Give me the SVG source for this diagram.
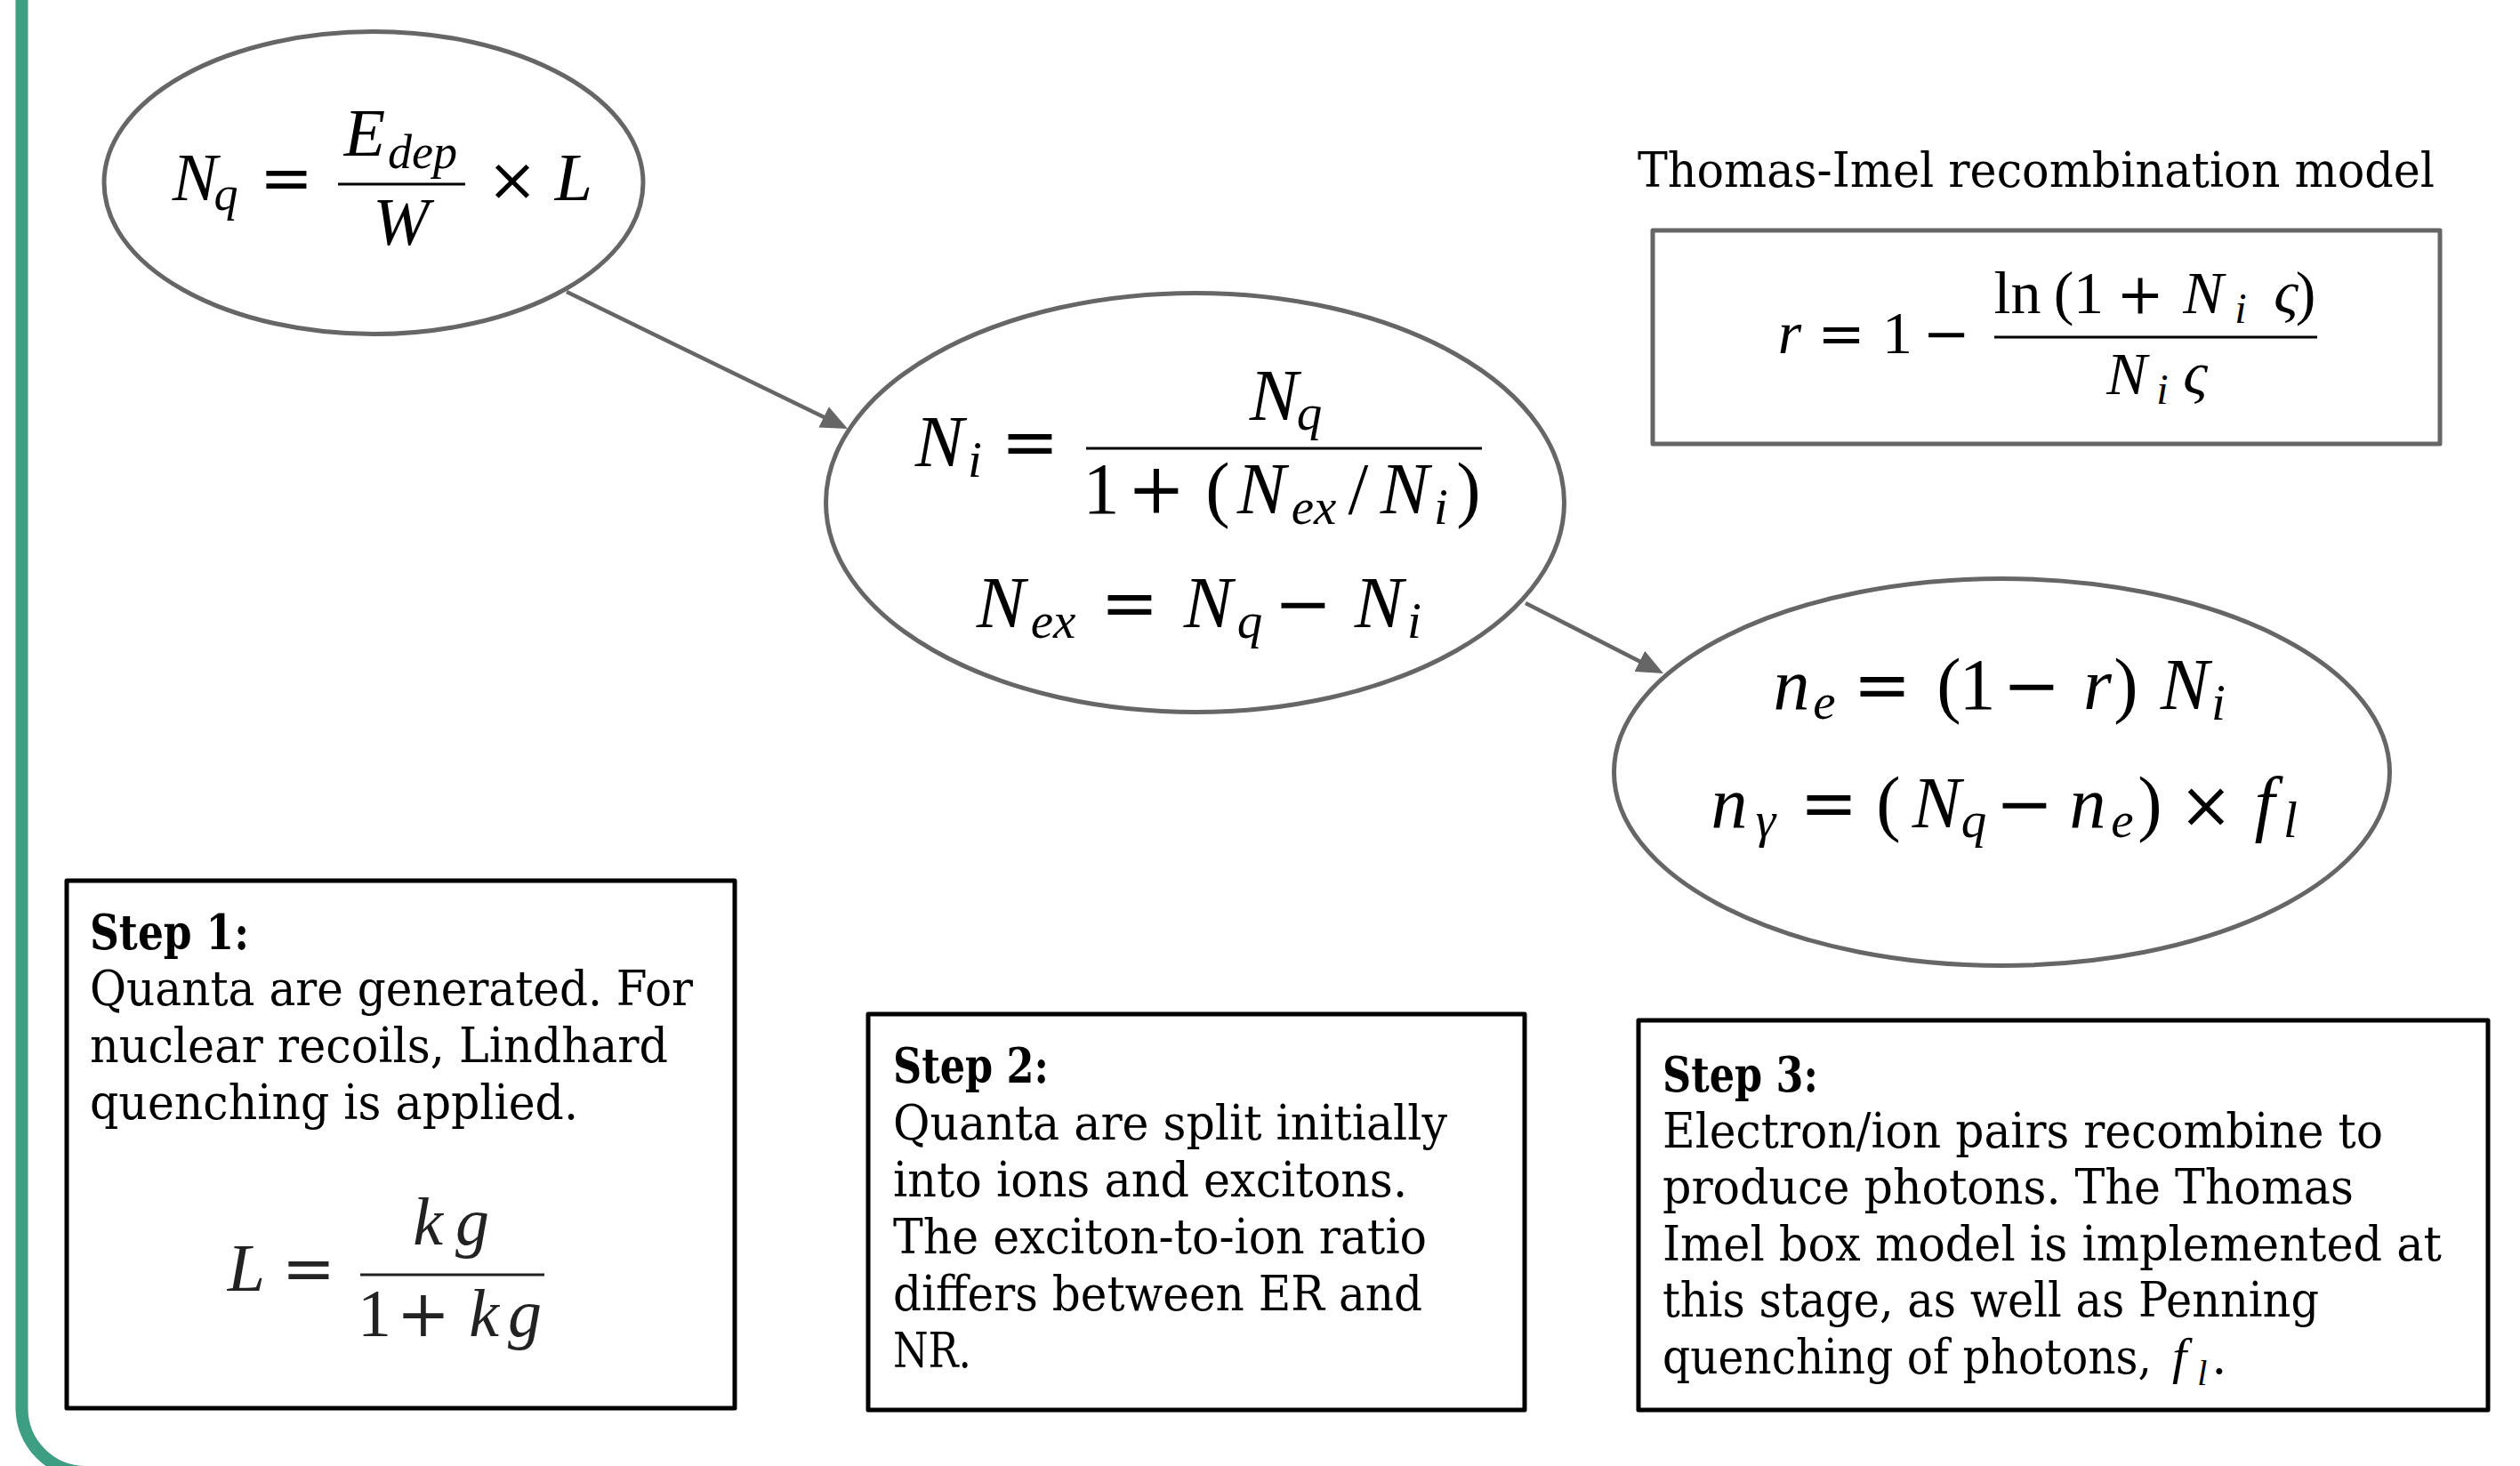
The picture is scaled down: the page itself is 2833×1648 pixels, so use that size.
<svg xmlns="http://www.w3.org/2000/svg" width="2833" height="1648" viewBox="0 0 2833 1648">
<defs>
<style>
.node{fill:#fff;stroke:#666;stroke-width:5}
.box{fill:#fff;stroke:#000;stroke-width:5;stroke-linejoin:round}
.tibox{fill:#fff;stroke:#666;stroke-width:5;stroke-linejoin:round}
.edge{stroke:#666;stroke-width:4.5;fill:none}
.bar{stroke:#000;stroke-width:3}
.mi{font-family:"Liberation Serif",serif;font-style:italic;fill:#000;text-anchor:middle}
.mn{font-family:"Liberation Serif",serif;fill:#000;text-anchor:middle}
.mo{font-family:"DejaVu Serif",serif;fill:#000;text-anchor:middle}
.t{font-family:"DejaVu Serif","Liberation Serif",serif;font-size:54px;fill:#000}
.tb{font-family:"DejaVu Serif","Liberation Serif",serif;font-size:54px;font-weight:bold;fill:#000}
.it{font-family:"Liberation Serif",serif;font-style:italic}
</style>
<marker id="arr" viewBox="0 0 30 26" refX="21" refY="13" markerWidth="30" markerHeight="26" markerUnits="userSpaceOnUse" orient="auto">
<path d="M0,0 L30,13 L0,26 Z" fill="#666"/>
</marker>
</defs>
<rect width="2833" height="1648" fill="#fff"/>
<path d="M24.5,0 V1583 A72,72 0 0 0 96.5,1655 H2840" fill="none" stroke="#3d9e82" stroke-width="14"/>

<g id="connectors">
<line class="edge" x1="637" y1="328" x2="944.9" y2="478.1" marker-end="url(#arr)"/>
<line class="edge" x1="1715" y1="678" x2="1862" y2="752.9" marker-end="url(#arr)"/>
</g>

<g id="node-nq">
<ellipse class="node" cx="420" cy="205.5" rx="303" ry="170"/>
<text class="mi" x="219" y="225" font-size="76">N</text>
<text class="mi" x="254" y="236" font-size="54">q</text>
<text class="mo" x="322" y="225" font-size="72">=</text>
<text class="mi" x="410" y="175" font-size="76">E</text>
<text class="mi" x="436" y="189" font-size="54" style="text-anchor:start">dep</text>
<line class="bar" x1="380" y1="207" x2="523" y2="207"/>
<text class="mi" x="451" y="275" font-size="76">W</text>
<text class="mo" x="576" y="225" font-size="68">×</text>
<text class="mi" x="645" y="225" font-size="76">L</text>
</g>

<g id="node-ni">
<ellipse class="node" cx="1343.5" cy="565" rx="415" ry="235.5"/>
<text class="mi" x="1056" y="524" font-size="82">N</text>
<text class="mi" x="1096" y="536" font-size="57">i</text>
<text class="mo" x="1158" y="524" font-size="78">=</text>
<text class="mi" x="1432" y="472" font-size="82">N</text>
<text class="mi" x="1472" y="483" font-size="57">q</text>
<line class="bar" x1="1221" y1="504" x2="1666" y2="504"/>
<text class="mn" x="1238" y="577" font-size="82">1</text>
<text class="mo" x="1300" y="577" font-size="78">+</text>
<text class="mn" x="1369" y="577" font-size="82">(</text>
<text class="mi" x="1418" y="577" font-size="82">N</text>
<text class="mi" x="1477" y="589" font-size="57">ex</text>
<text class="mn" x="1527" y="577" font-size="82">/</text>
<text class="mi" x="1579" y="577" font-size="82">N</text>
<text class="mi" x="1620" y="589" font-size="57">i</text>
<text class="mn" x="1651" y="577" font-size="82">)</text>
<text class="mi" x="1125" y="705" font-size="82">N</text>
<text class="mi" x="1184" y="717" font-size="57">ex</text>
<text class="mo" x="1270" y="705" font-size="78">=</text>
<text class="mi" x="1358" y="705" font-size="82">N</text>
<text class="mi" x="1405" y="717" font-size="57">q</text>
<text class="mo" x="1465" y="705" font-size="78">−</text>
<text class="mi" x="1550" y="705" font-size="82">N</text>
<text class="mi" x="1590" y="717" font-size="57">i</text>
</g>

<g id="node-ne">
<ellipse class="node" cx="2250.5" cy="868" rx="436" ry="217.5"/>
<text class="mi" x="2014" y="797" font-size="82">n</text>
<text class="mi" x="2051" y="808" font-size="57">e</text>
<text class="mo" x="2116" y="797" font-size="78">=</text>
<text class="mn" x="2191" y="797" font-size="82">(</text>
<text class="mn" x="2223" y="797" font-size="82">1</text>
<text class="mo" x="2284" y="797" font-size="78">−</text>
<text class="mi" x="2358" y="797" font-size="82">r</text>
<text class="mn" x="2390" y="797" font-size="82">)</text>
<text class="mi" x="2456" y="797" font-size="82">N</text>
<text class="mi" x="2494" y="809" font-size="57">i</text>
<text class="mi" x="1944" y="930" font-size="82">n</text>
<text class="mi" x="1985" y="941" font-size="57">γ</text>
<text class="mo" x="2056" y="930" font-size="78">=</text>
<text class="mn" x="2123" y="930" font-size="82">(</text>
<text class="mi" x="2177" y="930" font-size="82">N</text>
<text class="mi" x="2219" y="941" font-size="57">q</text>
<text class="mo" x="2276" y="930" font-size="78">−</text>
<text class="mi" x="2347" y="930" font-size="82">n</text>
<text class="mi" x="2386" y="941" font-size="57">e</text>
<text class="mn" x="2417" y="930" font-size="82">)</text>
<text class="mo" x="2480" y="930" font-size="72">×</text>
<text class="mi" x="2546" y="930" font-size="82">f</text>
<text class="mi" x="2575" y="941" font-size="57">l</text>
</g>

<g id="node-ti">
<text class="t" x="1841" y="210" font-size="54" textLength="896" lengthAdjust="spacingAndGlyphs">Thomas-Imel recombination model</text>
<rect class="tibox" x="1858" y="259" width="885" height="240"/>
<text class="mi" x="2012" y="397" font-size="68">r</text>
<text class="mo" x="2070" y="397" font-size="64">=</text>
<text class="mn" x="2133" y="397" font-size="68">1</text>
<text class="mo" x="2188" y="397" font-size="64">−</text>
<line class="bar" x1="2242" y1="379" x2="2605" y2="379"/>
<text class="mn" x="2268" y="352" font-size="68">ln</text>
<text class="mn" x="2320" y="352" font-size="68">(</text>
<text class="mn" x="2348" y="352" font-size="68">1</text>
<text class="mo" x="2406" y="352" font-size="64">+</text>
<text class="mi" x="2477" y="352" font-size="68">N</text>
<text class="mi" x="2519" y="363" font-size="48">i</text>
<text class="mi" x="2570" y="352" font-size="68">ς</text>
<text class="mn" x="2592" y="352" font-size="68">)</text>
<text class="mi" x="2391" y="443" font-size="68">N</text>
<text class="mi" x="2431" y="454" font-size="48">i</text>
<text class="mi" x="2468" y="443" font-size="68">ς</text>
</g>

<g id="step1">
<rect class="box" x="75" y="990" width="751" height="593"/>
<text class="tb" x="101" y="1067" textLength="179" lengthAdjust="spacingAndGlyphs">Step 1:</text>
<text class="t" x="101" y="1130" textLength="678" lengthAdjust="spacingAndGlyphs">Quanta are generated. For</text>
<text class="t" x="101" y="1194" textLength="650" lengthAdjust="spacingAndGlyphs">nuclear recoils, Lindhard</text>
<text class="t" x="101" y="1258" textLength="549" lengthAdjust="spacingAndGlyphs">quenching is applied.</text>
<text class="mi" x="277" y="1451" font-size="76" style="fill:#222">L</text>
<text class="mo" x="347" y="1451" font-size="72" style="fill:#222">=</text>
<line x1="405" y1="1433" x2="612" y2="1433" stroke="#222" stroke-width="3"/>
<text class="mi" x="481" y="1399" font-size="76" style="fill:#222">k</text>
<text class="mi" x="531" y="1399" font-size="76" style="fill:#222">g</text>
<text class="mn" x="421" y="1502" font-size="76" style="fill:#222">1</text>
<text class="mo" x="476" y="1502" font-size="72" style="fill:#222">+</text>
<text class="mi" x="544" y="1502" font-size="76" style="fill:#222">k</text>
<text class="mi" x="590" y="1502" font-size="76" style="fill:#222">g</text>
</g>

<g id="step2">
<rect class="box" x="976" y="1140" width="738" height="445"/>
<text class="tb" x="1004" y="1217" textLength="175" lengthAdjust="spacingAndGlyphs">Step 2:</text>
<text class="t" x="1004" y="1281" textLength="623" lengthAdjust="spacingAndGlyphs">Quanta are split initially</text>
<text class="t" x="1004" y="1345" textLength="578" lengthAdjust="spacingAndGlyphs">into ions and excitons.</text>
<text class="t" x="1004" y="1409" textLength="600" lengthAdjust="spacingAndGlyphs">The exciton-to-ion ratio</text>
<text class="t" x="1004" y="1473" textLength="595" lengthAdjust="spacingAndGlyphs">differs between ER and</text>
<text class="t" x="1004" y="1537" textLength="88" lengthAdjust="spacingAndGlyphs">NR.</text>
</g>

<g id="step3">
<rect class="box" x="1842" y="1147" width="955" height="438"/>
<text class="tb" x="1869" y="1227" textLength="175" lengthAdjust="spacingAndGlyphs">Step 3:</text>
<text class="t" x="1869" y="1290" textLength="810" lengthAdjust="spacingAndGlyphs">Electron/ion pairs recombine to</text>
<text class="t" x="1869" y="1353" textLength="777" lengthAdjust="spacingAndGlyphs">produce photons. The Thomas</text>
<text class="t" x="1869" y="1417" textLength="876" lengthAdjust="spacingAndGlyphs">Imel box model is implemented at</text>
<text class="t" x="1869" y="1480" textLength="738" lengthAdjust="spacingAndGlyphs">this stage, as well as Penning</text>
<text class="t" x="1869" y="1544" font-size="50" textLength="550" lengthAdjust="spacingAndGlyphs">quenching of photons,</text>
<text class="t" x="2442" y="1544"><tspan class="it" font-size="58">f</tspan><tspan class="it" font-size="40" dx="12" dy="13">l</tspan><tspan dx="5" dy="-13">.</tspan></text>
</g>
</svg>
